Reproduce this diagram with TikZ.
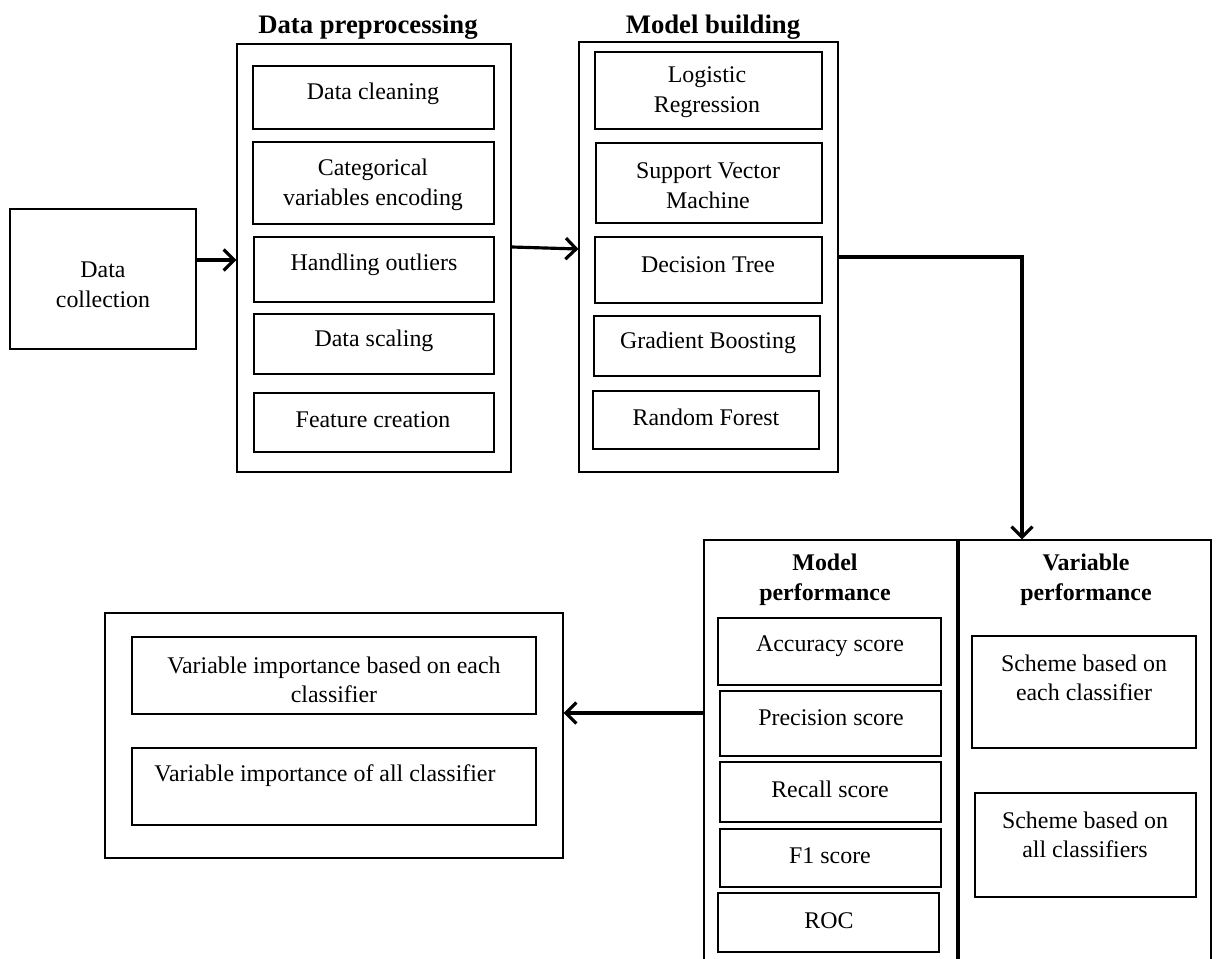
\documentclass[tikz,border=0pt]{standalone}
\usepackage{fontspec}
\setmainfont{Liberation Serif}
\usetikzlibrary{fit,arrows.meta,calc}
\begin{document}
\begin{tikzpicture}[x=0.02cm,y=-0.02cm,
  box/.style={draw=black,line width=0.65pt,inner sep=0pt,fit={#1}},
  txt/.style={font=\fontsize{13.6}{17}\selectfont,align=center,inner sep=0pt,yshift=-1.6pt},
  ttl/.style={font=\fontsize{15.2}{18}\selectfont\bfseries,align=center,inner sep=0pt,yshift=-1.6pt},
  sttl/.style={font=\fontsize{13.6}{17}\selectfont\bfseries,align=center,inner sep=0pt,yshift=-1.6pt},
  flow/.style={line width=1.8pt,-{Straight Barb[length=6pt,width=12pt]}}]
\clip (0,0) rectangle (1218,959);

% Data collection
\node[box={(10,209)(196,349)}] (dc) {};
\node[txt] (dct) at (103,282) {Data\\collection};

% Data preprocessing
\node[ttl] (dpt) at (368,24) {Data preprocessing};
\node[box={(237,44)(511,472)}] (dp) {};
\node[box={(253,66)(494,129)}] (dp1) {};
\node[box={(253,142)(494,224)}] (dp2) {};
\node[box={(254,237)(494,302)}] (dp3) {};
\node[box={(254,314)(494,374)}] (dp4) {};
\node[box={(254,393)(494,452)}] (dp5) {};
\node[txt] at (373,91) {Data cleaning};
\node[txt] at (373,182) {Categorical\\variables encoding};
\node[txt] at (374,262) {Handling outliers};
\node[txt] at (374,338) {Data scaling};
\node[txt] at (373,417) {Feature creation};

% Model building
\node[ttl] (mbt) at (713,24) {Model building};
\node[box={(579,42)(838,472)}] (mb) {};
\node[box={(595,52)(822,129)}] (mb1) {};
\node[box={(596,143)(822,223)}] (mb2) {};
\node[box={(595,237)(822,303)}] (mb3) {};
\node[box={(594,316)(820,376)}] (mb4) {};
\node[box={(593,391)(819,449)}] (mb5) {};
\node[txt] at (707,89) {Logistic\\Regression};
\node[txt] at (708,183) {Support Vector\\Machine};
\node[txt] at (708,262) {Decision Tree};
\node[txt] at (708,340) {Gradient Boosting};
\node[txt] at (706,415) {Random Forest};

% Model performance
\node[box={(704,540)(957,980)}] (mp) {};
\node[sttl] at (825,577) {Model\\performance};
\node[box={(718,618)(941,685)}] (mp1) {};
\node[box={(720,691)(941,756)}] (mp2) {};
\node[box={(720,762)(941,822)}] (mp3) {};
\node[box={(720,829)(941,887)}] (mp4) {};
\node[box={(718,893)(939,952)}] (mp5) {};
\node[txt] at (830,643) {Accuracy score};
\node[txt] at (831,715) {Precision score};
\node[txt] at (830,787) {Recall score};
\node[txt] at (830,853) {F1 score};
\node[txt] at (829,918) {ROC};

% Variable performance
\node[box={(959,540)(1211,980)}] (vp) {};
\node[sttl] at (1086,577) {Variable\\performance};
\node[box={(972,636)(1196,748)}] (vp1) {};
\node[box={(975,793)(1196,897)}] (vp2) {};
\node[txt] at (1084,675) {Scheme based on\\each classifier};
\node[txt] at (1085,832) {Scheme based on\\all classifiers};

% Variable importance
\node[box={(105,613)(563,858)}] (vi) {};
\node[box={(132,637)(536,714)}] (vi1) {};
\node[box={(132,748)(536,825)}] (vi2) {};
\node[txt] at (334,677) {Variable importance based on each\\classifier};
\node[txt] at (325,773) {Variable importance of all classifier};

% Connectors
\draw[flow] (dc.east |- 0,260) -- (dp.west |- 0,260);
\draw[flow] (dp.east |- 0,247) -- (mb.west |- 0,249);
\coordinate (bend) at (1022,257);
\draw[flow] (mb.east |- bend) -- (bend) -- (bend |- vp.north);
\draw[flow] (mp.west |- 0,713) -- (vi.east |- 0,713);
\end{tikzpicture}
\end{document}
